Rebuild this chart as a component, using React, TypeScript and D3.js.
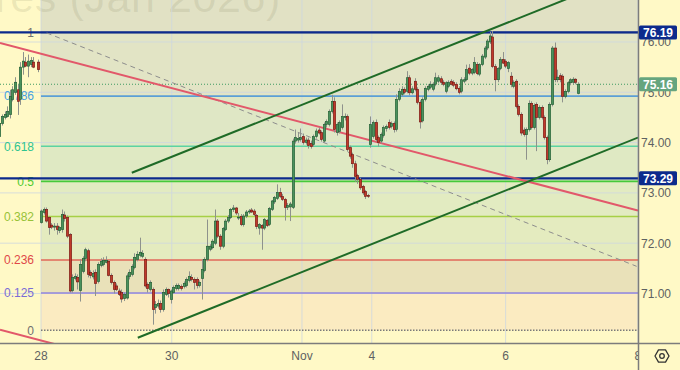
import React, { useEffect, useRef } from "react";
import * as d3 from "d3";

const W = 680;
const H = 370;
const PLOT_R = 638;
const PLOT_B = 343;

// Main series candles [open, high, low, close]; bar index = array position
const candles: number[][] = [
  [72.41, 72.67, 72.39, 72.64], [72.61, 72.71, 72.57, 72.67], [72.67, 72.71, 72.41, 72.44], [72.51, 72.53, 72.17, 72.31],
  [72.36, 72.40, 72.28, 72.32], [72.32, 72.40, 72.25, 72.34], [72.34, 72.40, 72.17, 72.27], [72.25, 72.34, 72.20, 72.31],
  [72.27, 72.67, 72.21, 72.57], [72.56, 72.63, 72.43, 72.49], [72.51, 72.55, 72.10, 72.14], [72.17, 72.20, 71.02, 71.05],
  [71.06, 71.38, 71.02, 71.32], [71.30, 71.40, 71.26, 71.34], [71.32, 71.38, 71.08, 71.23], [71.06, 71.68, 70.84, 71.58],
  [71.44, 71.74, 71.40, 71.70], [71.70, 71.91, 71.64, 71.87], [71.85, 71.89, 71.32, 71.38], [71.42, 71.46, 71.30, 71.36],
  [71.33, 71.46, 71.28, 71.40], [71.42, 71.48, 70.95, 71.20], [71.24, 71.62, 71.20, 71.58], [71.56, 71.70, 71.52, 71.64],
  [71.58, 71.72, 71.54, 71.66], [71.62, 71.74, 71.60, 71.66], [71.64, 71.66, 71.34, 71.36], [71.36, 71.40, 71.18, 71.22],
  [71.22, 71.26, 71.00, 71.08], [71.15, 71.20, 71.05, 71.08], [71.05, 71.10, 70.95, 70.98], [71.02, 71.08, 70.82, 70.89],
  [70.90, 71.02, 70.85, 70.98], [70.91, 71.40, 70.88, 71.35], [71.34, 71.48, 71.28, 71.42], [71.38, 71.58, 71.34, 71.54],
  [71.52, 71.80, 71.48, 71.72], [71.68, 71.84, 71.64, 71.78], [71.76, 72.11, 71.72, 71.82], [71.74, 71.86, 71.70, 71.80],
  [71.68, 71.72, 71.12, 71.15], [71.18, 71.22, 71.02, 71.10], [71.08, 71.26, 71.04, 71.22], [71.08, 71.12, 70.38, 70.68],
  [70.72, 70.85, 70.60, 70.78], [70.75, 70.88, 70.70, 70.80], [70.80, 70.86, 70.62, 70.68], [70.68, 71.08, 70.64, 71.02],
  [70.98, 71.12, 70.95, 71.08], [71.08, 71.10, 70.92, 71.00], [70.88, 71.08, 70.80, 71.05], [71.02, 71.16, 71.00, 71.12],
  [71.10, 71.20, 71.06, 71.16], [71.10, 71.20, 71.06, 71.16], [71.14, 71.18, 71.06, 71.10], [71.14, 71.24, 71.10, 71.20],
  [71.16, 71.32, 71.12, 71.28], [71.26, 71.44, 71.22, 71.34], [71.32, 71.38, 71.24, 71.28], [71.28, 71.32, 71.08, 71.22],
  [71.28, 71.32, 71.10, 71.16], [71.16, 71.26, 71.12, 71.22], [71.30, 71.68, 70.88, 71.48], [71.46, 71.72, 71.42, 71.68],
  [71.68, 72.47, 71.64, 71.94], [71.88, 71.98, 71.84, 71.94], [71.91, 72.08, 71.88, 72.04], [72.00, 72.67, 71.96, 72.44],
  [72.44, 72.48, 72.10, 72.14], [72.14, 72.18, 71.87, 71.94], [71.94, 72.32, 71.90, 72.29], [72.27, 72.48, 72.24, 72.44],
  [72.44, 72.56, 72.40, 72.51], [72.51, 72.70, 72.48, 72.67], [72.67, 72.76, 72.62, 72.70], [72.70, 72.72, 72.56, 72.60],
  [72.50, 72.60, 72.46, 72.52], [72.53, 72.58, 72.34, 72.37], [72.37, 72.58, 72.33, 72.54], [72.54, 72.66, 72.50, 72.62],
  [72.62, 72.68, 72.58, 72.64], [72.66, 72.70, 72.60, 72.62], [72.64, 72.68, 72.54, 72.57], [72.55, 72.58, 72.28, 72.33],
  [72.30, 72.40, 72.17, 72.37], [72.35, 72.38, 71.87, 72.30], [72.30, 72.50, 72.26, 72.47], [72.45, 72.48, 72.32, 72.35],
  [72.37, 72.72, 72.34, 72.69], [72.67, 72.86, 72.64, 72.84], [72.82, 72.94, 72.78, 72.91], [72.89, 73.17, 72.86, 73.01],
  [73.01, 73.10, 72.90, 72.93], [72.93, 72.98, 72.84, 72.87], [72.87, 72.90, 72.45, 72.71], [72.71, 72.80, 72.66, 72.75],
  [72.72, 72.82, 72.44, 72.78], [72.71, 74.08, 72.68, 74.03], [74.03, 74.26, 73.98, 74.10], [74.05, 74.20, 74.00, 74.08],
  [74.06, 74.28, 74.02, 74.10], [74.12, 74.18, 73.96, 74.00], [74.00, 74.10, 73.96, 74.05], [74.05, 74.10, 73.88, 73.94],
  [73.98, 74.04, 73.88, 73.92], [73.96, 74.16, 73.92, 74.12], [74.12, 74.28, 74.08, 74.23], [74.25, 74.30, 74.16, 74.19],
  [74.20, 74.24, 74.02, 74.06], [74.03, 74.40, 74.00, 74.36], [74.36, 74.46, 74.30, 74.42], [74.36, 74.66, 74.32, 74.62],
  [74.62, 74.95, 74.58, 74.82], [74.82, 74.90, 74.20, 74.26], [74.20, 74.40, 74.14, 74.36], [74.22, 74.44, 74.18, 74.40],
  [74.30, 74.76, 74.26, 74.52], [74.50, 74.58, 74.44, 74.52], [74.52, 74.56, 73.82, 73.86], [73.90, 73.94, 73.68, 73.73],
  [73.76, 73.80, 73.50, 73.58], [73.58, 73.64, 73.22, 73.33], [73.35, 73.38, 73.18, 73.27], [73.27, 73.30, 73.06, 73.10],
  [73.13, 73.16, 72.96, 73.00], [73.03, 73.06, 72.88, 72.93], [72.95, 72.98, 72.90, 72.94], [73.96, 74.52, 73.90, 74.36],
  [74.12, 74.44, 74.08, 74.40], [74.40, 74.46, 74.02, 74.06], [74.10, 74.14, 73.92, 74.00], [74.03, 74.20, 73.98, 74.16],
  [74.14, 74.34, 74.10, 74.30], [74.28, 74.36, 74.22, 74.32], [74.40, 74.46, 74.26, 74.30], [74.32, 74.42, 74.28, 74.38],
  [74.38, 74.42, 74.20, 74.26], [74.26, 74.96, 74.22, 74.86], [74.86, 75.08, 74.82, 75.02], [74.96, 75.12, 74.92, 75.06],
  [75.06, 75.10, 74.96, 75.00], [75.02, 75.42, 74.98, 75.29], [75.29, 75.34, 74.94, 74.99], [74.99, 75.12, 74.96, 75.07],
  [75.22, 75.28, 75.02, 75.06], [75.06, 75.10, 74.76, 74.80], [74.80, 74.84, 74.28, 74.41], [74.43, 74.90, 74.40, 74.86],
  [74.86, 75.12, 74.82, 75.08], [75.06, 75.16, 75.02, 75.12], [75.10, 75.22, 75.06, 75.16], [75.06, 75.20, 75.02, 75.16],
  [75.16, 75.39, 75.12, 75.29], [75.22, 75.34, 75.18, 75.29], [75.27, 75.32, 75.16, 75.20], [75.20, 75.24, 75.12, 75.16],
  [75.02, 75.22, 74.98, 75.19], [75.12, 75.24, 75.08, 75.20], [75.22, 75.26, 75.14, 75.16], [75.20, 75.24, 75.10, 75.14],
  [75.16, 75.20, 75.04, 75.07], [75.08, 75.12, 74.96, 75.00], [75.02, 75.30, 74.98, 75.25], [75.22, 75.30, 75.18, 75.25],
  [75.25, 75.55, 75.22, 75.45], [75.48, 75.56, 75.34, 75.38], [75.38, 75.48, 75.34, 75.45], [75.39, 75.70, 75.36, 75.59],
  [75.55, 75.60, 75.34, 75.37], [75.36, 75.58, 75.32, 75.55], [75.55, 75.76, 75.52, 75.72], [75.70, 75.92, 75.66, 75.88],
  [75.88, 76.06, 75.84, 76.02], [76.00, 76.20, 75.96, 76.12], [76.10, 76.22, 75.48, 75.51], [75.51, 75.56, 75.02, 75.25],
  [75.25, 75.50, 75.20, 75.47], [75.47, 75.70, 75.44, 75.65], [75.65, 75.80, 75.56, 75.58], [75.62, 75.66, 75.48, 75.52],
  [75.47, 75.62, 75.40, 75.59], [75.32, 75.40, 75.10, 75.16], [75.12, 75.24, 75.08, 75.20], [75.22, 75.26, 74.68, 74.72],
  [74.72, 74.76, 74.52, 74.56], [74.56, 74.60, 74.14, 74.19], [74.25, 74.30, 74.12, 74.16], [74.16, 74.30, 73.66, 74.26],
  [74.26, 74.84, 74.22, 74.78], [74.78, 74.82, 74.26, 74.30], [74.30, 74.78, 74.26, 74.74], [74.76, 74.80, 73.83, 74.50],
  [74.50, 74.74, 74.46, 74.70], [74.70, 74.74, 74.46, 74.50], [74.50, 74.54, 74.06, 74.10], [74.10, 74.14, 73.57, 73.66],
  [73.66, 74.80, 73.62, 74.76], [74.76, 75.92, 74.72, 75.88], [75.88, 75.99, 75.20, 75.25], [75.25, 75.45, 75.20, 75.30],
  [75.33, 75.38, 75.20, 75.25], [75.32, 75.36, 74.80, 74.92], [74.92, 75.06, 74.88, 75.02], [75.02, 75.22, 74.98, 75.19],
  [75.19, 75.28, 75.14, 75.25], [75.20, 75.30, 75.16, 75.26], [75.26, 75.28, 75.16, 75.20], [74.98, 75.20, 74.96, 75.16],
];

// Earlier contract overlay candles (left edge)
const prevTimes = [-16, -15, -14, -13, -12, -11, -10, -9, -8, -7, -6, -5, -4, -3, -1];
const prevCandles: number[][] = [
  [74.12, 74.42, 74.06, 74.38], [74.38, 74.56, 74.34, 74.52], [74.50, 74.62, 74.46, 74.56], [74.52, 74.72, 74.50, 74.62],
  [74.56, 75.05, 74.48, 74.92], [74.86, 75.12, 74.82, 75.05], [75.00, 75.30, 74.95, 75.20], [75.05, 75.15, 74.55, 74.82],
  [74.86, 75.60, 74.75, 75.50], [75.50, 75.80, 75.35, 75.62], [75.60, 75.70, 75.50, 75.52], [75.52, 75.75, 75.30, 75.62],
  [75.55, 75.70, 75.50, 75.63], [75.60, 75.70, 75.48, 75.50], [75.60, 75.65, 75.40, 75.45],
];

const priceTicks = [71, 72, 73, 74, 75, 76];
const timeTickBars = [0, 50.4, 100.6, 127.5, 179.1, 230.1];
const timeTickLabels = ["28", "30", "Nov", "4", "6", "8"];

const fibHigh = 76.19;
const fibLow = 70.27;
const fibLevels = [1, 0.786, 0.618, 0.5, 0.382, 0.236, 0.125, 0];
const fibLabels = ["1", "0.786", "0.618", "0.5", "0.382", "0.236", "0.125", "0"];
const fibLineColors = ["#787b86", "#5b9fd6", "#5cd3a2", "#46c93a", "#a6d046", "#e0675a", "#9284dd", "#7a7a7a"];
const fibTextColors = ["#707070", "#47a2e0", "#30c490", "#4fcb2f", "#97c237", "#e04848", "#7a6cd6", "#6f6f6f"];
const fibBandColors = ["#e2e4c5", "#dfe7c5", "#dfe9c3", "#e2ebc1", "#e4ebbf", "#e9e1b9", "#fbebc1"];
const fibTopColor = "#e1e1c4";

const keyLevels = [76.19, 73.29];
const lastPrice = 75.16;

const redLineA = [[-15.8, 75.98], [230.1, 72.65]];
const redLineB = [[-15.8, 70.28], [230.1, 66.95]];
const fibTrend = [[2.2, 76.18], [229.6, 71.54]];
const channelUpper = [[35, 73.4], [230.1, 77.42]];
const channelLower = [[37.3, 70.12], [230.1, 74.1]];

const watermark = "Crude Oil Futures (Jan 2026)";

export default function App() {
  const ref = useRef<SVGSVGElement>(null);

  useEffect(() => {
    document.body.style.margin = "0";
    const svg = d3.select(ref.current);
    svg.selectAll("*").remove();

    const x = d3.scaleLinear().domain([0, candles.length - 1]).range([41, 578]);
    const y = d3.scaleLinear().domain([71, 76]).range([293.5, 42]);
    const font = "'Liberation Sans', Arial, sans-serif";

    const defs = svg.append("defs");
    defs.append("clipPath").attr("id", "plotClip").append("rect")
      .attr("x", 0).attr("y", 0).attr("width", PLOT_R).attr("height", PLOT_B);

    svg.append("rect").attr("width", W).attr("height", H).attr("fill", "#fff9c6");

    const g = svg.append("g").attr("clip-path", "url(#plotClip)");

    // Fib background bands
    const fibP = (lv: number) => fibLow + lv * (fibHigh - fibLow);
    const fx0 = x(0);
    g.append("rect").attr("x", fx0).attr("y", 0).attr("width", PLOT_R - fx0)
      .attr("height", y(fibP(1))).attr("fill", fibTopColor);
    fibLevels.slice(0, -1).forEach((lv, i) => {
      const y1 = y(fibP(lv));
      const y2 = y(fibP(fibLevels[i + 1]));
      g.append("rect").attr("x", fx0).attr("y", y1).attr("width", PLOT_R - fx0)
        .attr("height", y2 - y1).attr("fill", fibBandColors[i]);
    });

    // watermark
    g.append("text").attr("x", 281).attr("y", 12).attr("text-anchor", "end")
      .attr("font-family", font).attr("font-size", 43).attr("letter-spacing", 0.6)
      .attr("fill", "rgba(110,110,70,0.13)").text(watermark);

    // grid
    priceTicks.forEach((p) => {
      g.append("line").attr("x1", 0).attr("x2", PLOT_R).attr("y1", y(p)).attr("y2", y(p))
        .attr("stroke", "#cfd8e0").attr("stroke-width", 1).attr("opacity", 0.8);
    });
    timeTickBars.forEach((b) => {
      g.append("line").attr("x1", x(b)).attr("x2", x(b)).attr("y1", 0).attr("y2", PLOT_B)
        .attr("stroke", "#cfd8e0").attr("stroke-width", 1).attr("opacity", 0.8);
    });

    // fib lines and labels
    fibLevels.forEach((lv, i) => {
      const yy = y(fibP(lv));
      g.append("line").attr("x1", fx0).attr("x2", PLOT_R).attr("y1", yy).attr("y2", yy)
        .attr("stroke", fibLineColors[i]).attr("stroke-width", lv === 0 ? 1.5 : 1.6)
        .attr("stroke-dasharray", lv === 0 ? "1.5,1.5" : null);
      g.append("text").attr("x", 34).attr("y", yy).attr("dy", "0.36em").attr("text-anchor", "end")
        .attr("font-family", font).attr("font-size", 12).attr("fill", fibTextColors[i])
        .text(fibLabels[i]);
    });

    // key levels
    keyLevels.forEach((p) => {
      g.append("line").attr("x1", 0).attr("x2", PLOT_R).attr("y1", y(p)).attr("y2", y(p))
        .attr("stroke", "#0c2a8c").attr("stroke-width", 2.2);
    });

    // last price dotted line
    g.append("line").attr("x1", 0).attr("x2", PLOT_R).attr("y1", y(lastPrice)).attr("y2", y(lastPrice))
      .attr("stroke", "#3f9a62").attr("stroke-width", 1).attr("stroke-dasharray", "1,2");

    // trend lines
    const line = d3.line<number[]>().x((d) => x(d[0])).y((d) => y(d[1]));
    g.append("path").attr("d", line(fibTrend)).attr("fill", "none").attr("stroke", "#8d8d8d")
      .attr("stroke-width", 1).attr("stroke-dasharray", "5,4");
    [redLineA, redLineB].forEach((l) => {
      g.append("path").attr("d", line(l)).attr("fill", "none").attr("stroke", "#e2586a").attr("stroke-width", 2);
    });
    [channelUpper, channelLower].forEach((l) => {
      g.append("path").attr("d", line(l)).attr("fill", "none").attr("stroke", "#1f6b27").attr("stroke-width", 2);
    });

    // candles
    const drawCandle = (t: number, c: number[]) => {
      const [o, h, l, cl] = c;
      const cx = Math.round(x(t)) + 0.5;
      const up = cl >= o;
      g.append("line").attr("x1", cx).attr("x2", cx).attr("y1", y(h)).attr("y2", y(l))
        .attr("stroke", "#8e928c").attr("stroke-width", 1);
      const top = y(Math.max(o, cl));
      const bh = Math.max(1, Math.abs(y(o) - y(cl)));
      g.append("rect").attr("x", cx - 1.2).attr("y", top).attr("width", 2.4).attr("height", bh)
        .attr("fill", up ? "#4a915d" : "#c0392b")
        .attr("stroke", up ? "#1f5a30" : "#701510").attr("stroke-width", 0.6);
    };
    prevCandles.forEach((c, i) => drawCandle(prevTimes[i], c));
    candles.forEach((c, i) => drawCandle(i, c));

    // axes lines
    svg.append("line").attr("x1", 0).attr("x2", W).attr("y1", PLOT_B + 0.5).attr("y2", PLOT_B + 0.5)
      .attr("stroke", "#7c7c7c").attr("stroke-width", 1.5);
    svg.append("line").attr("x1", PLOT_R + 0.5).attr("x2", PLOT_R + 0.5).attr("y1", 0).attr("y2", H)
      .attr("stroke", "#7c7c7c").attr("stroke-width", 1.5);

    // price tick labels
    priceTicks.forEach((p) => {
      svg.append("text").attr("x", 641).attr("y", y(p)).attr("dy", "0.36em")
        .attr("font-family", font).attr("font-size", 12).attr("fill", "#5e6262")
        .text(d3.format(".2f")(p));
    });

    // price boxes
    const box = (p: number, fill: string) => {
      const yy = y(p);
      svg.append("rect").attr("x", 639).attr("y", yy - 7).attr("width", 38).attr("height", 14)
        .attr("rx", 1.5).attr("fill", fill);
      svg.append("text").attr("x", 658).attr("y", yy).attr("dy", "0.36em").attr("text-anchor", "middle")
        .attr("font-family", font).attr("font-size", 12).attr("font-weight", "bold").attr("fill", "#ffffff")
        .text(d3.format(".2f")(p));
    };
    keyLevels.forEach((p) => box(p, "#0c2a8c"));
    box(lastPrice, "#66a57e");

    // time labels
    const tg = svg.append("g").attr("clip-path", "url(#timeClip)");
    defs.append("clipPath").attr("id", "timeClip").append("rect")
      .attr("x", 0).attr("y", PLOT_B).attr("width", PLOT_R).attr("height", H - PLOT_B);
    timeTickBars.forEach((b, i) => {
      tg.append("text").attr("x", x(b)).attr("y", 356).attr("dy", "0.36em").attr("text-anchor", "middle")
        .attr("font-family", font).attr("font-size", 12).attr("fill", "#5e6262")
        .text(timeTickLabels[i]);
    });

    // settings icon
    const gx = 662, gy = 356, r = 7;
    const hex = d3.range(6).map((k) => {
      const a = (Math.PI / 3) * k;
      return [gx + r * Math.cos(a), gy + r * Math.sin(a)];
    });
    svg.append("path").attr("d", "M" + hex.map((p) => p.join(",")).join("L") + "Z")
      .attr("fill", "none").attr("stroke", "#333").attr("stroke-width", 1.3).attr("stroke-linejoin", "round");
    svg.append("circle").attr("cx", gx).attr("cy", gy).attr("r", 2.3)
      .attr("fill", "none").attr("stroke", "#333").attr("stroke-width", 1.3);
  }, []);

  return (
    <svg ref={ref} width={W} height={H} style={{ position: "absolute", left: 0, top: 0, display: "block" }} />
  );
}
